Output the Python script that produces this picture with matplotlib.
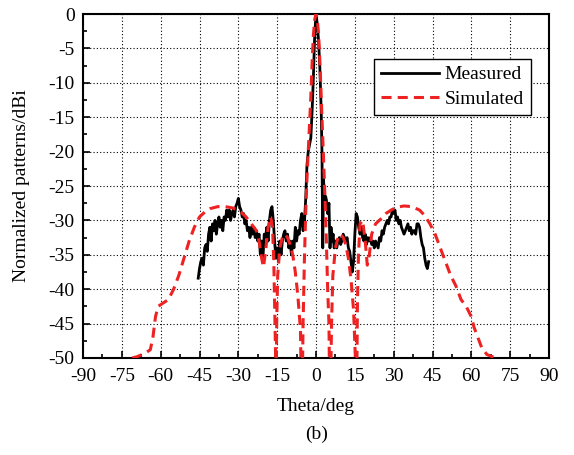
import matplotlib
matplotlib.use("Agg")
import matplotlib.pyplot as plt
from matplotlib.ticker import MultipleLocator

plt.rcParams["font.family"] = ["Liberation Serif", "DejaVu Serif"]
plt.rcParams["axes.unicode_minus"] = False

# measured pattern (black solid)
meas_theta = [
    -45.5, -45, -44.5, -44, -43.5, -43, -42.5, -42, -41.5, -41, -40.5, -40,
    -39.5, -39, -38.5, -38, -37.5, -37, -36.5, -36, -35.5, -35, -34.5, -34,
    -33.5, -33, -32.5, -32, -31.5, -31, -30.5, -30, -29.5, -29, -28.5, -28,
    -27.5, -27, -26.5, -26, -25.5, -25, -24.5, -24, -23.5, -23, -22.5, -22,
    -21.5, -21, -20.5, -20, -19.5, -19, -18.5, -18, -17.5, -17, -16.5, -16,
    -15.5, -15, -14.5, -14, -13.5, -13, -12.5, -12, -11.5, -11, -10.5, -10,
    -9.5, -9, -8.5, -8, -7.5, -7, -6.5, -6, -5.5, -5, -4.5, -4, -3.5, -3,
    -2.5, -2, -1.5, -1, -0.5, 0, 0.5, 1, 1.5, 2, 2.3, 2.6, 2.9, 3.3, 3.7, 4,
    4.5, 5, 5.4, 5.8, 6.2, 6.6, 7, 7.5, 8, 8.5, 9, 9.5, 10, 10.5, 11, 11.5,
    12, 12.5, 13, 13.5, 14, 14.5, 15, 15.5, 16, 16.5, 17, 17.5, 18, 18.5, 19,
    19.5, 20, 20.5, 21, 21.5, 22, 22.5, 23, 23.5, 24, 24.5, 25, 25.5, 26,
    26.5, 27, 27.5, 28, 28.5, 29, 29.5, 30, 30.5, 31, 31.5, 32, 32.5, 33,
    33.5, 34, 34.5, 35, 35.5, 36, 36.5, 37, 37.5, 38, 38.5, 39, 39.5, 40,
    40.5, 41, 41.5, 42, 42.5, 43, 43.5,
]
meas_db = [
    -38.4, -37, -36, -35.5, -36.5, -34, -33.5, -34.5, -32, -31, -33, -30.5,
    -31.5, -30, -32, -30.5, -29.5, -31, -30, -31.5, -29.5, -30, -28.5, -29.5,
    -28.5, -30, -29, -28.5, -29.5, -28, -27.5, -26.8, -28, -28.5, -29.5, -29,
    -30.5, -30, -31.5, -31, -32.5, -31, -32, -31, -32.5, -31.5, -33, -32,
    -35, -33, -35.5, -32, -32.5, -31, -33, -30, -28.5, -28, -30, -33,
    -35.5, -34, -36, -33, -35, -33, -32, -31.5, -33, -32, -34, -33,
    -35, -33, -34, -31, -33, -31.5, -32, -30, -29, -31.5, -30.5, -27, -22, -20,
    -19, -18, -14, -9, -3, 0, -1.5, -4, -8, -14, -20, -34, -24, -27, -26.5, -27,
    -29, -27.5, -34, -31, -33, -32, -34, -33, -34, -33, -32.5, -33.5, -33, -32, -32.5, -33,
    -32.5, -34, -34.5, -36, -37.5, -36, -32, -29, -29.5, -31, -32, -31, -32.5, -33, -32,
    -33.5, -32.5, -33, -32.5, -33.5, -33, -34, -33, -33.5, -34, -32.5, -33, -31.5, -32,
    -31, -30.5, -30, -30.5, -29.5, -29.5, -28.5, -29, -28.5, -30, -29.5, -30.5, -30, -31,
    -31.5, -32, -31.5, -31, -30.5, -31.5, -31, -32, -31.5, -31.5, -32, -30.5, -30.5, -31,
    -32.5, -33.5, -34, -35.5, -36.5, -37, -36,
]

# simulated pattern (red dashed)
sim_theta = [
    -71, -69, -66, -64, -63, -62, -61, -59, -57, -55, -53, -51, -49, -47,
    -45, -43, -41, -38, -35, -32, -29, -27, -25, -23, -22, -21, -20.3,
    -19.5, -18.5, -17.5, -16.8, -16.3, -16, -15.6, -15.5, -15.2, -14.8,
    -14, -13, -12, -11, -10, -9, -8, -7, -6, -5.5, -5, -4.5, -4, -3.5, -3,
    -2.5, -2, -1.5, -1, -0.5, 0, 0.5, 1, 1.5, 2, 2.5, 3, 3.5, 4, 4.5, 5,
    5.4, 6, 6.5, 7.5, 8.5, 9.5, 10.5, 11.5, 12.5, 13.5, 14.5, 15.2, 15.6,
    16, 16.4, 17, 18, 19, 19.8, 20.6, 21.5, 23, 25, 27, 29, 31, 34, 37, 40,
    42, 44, 46, 48, 50, 52, 54, 56, 58, 60, 61, 62, 63, 64, 65, 66, 68, 70,
    72,
]
sim_db = [
    -50, -49.8, -49.3, -48.8, -47, -44, -42.5, -42, -41.5, -40, -38, -35.5,
    -33, -31, -29.5, -28.8, -28.3, -28, -28, -28.2, -28.8, -29.5, -30.5,
    -31.5, -33, -35.5, -36.8, -34.5, -31, -29.5, -31, -36, -42, -50, -60,
    -45, -38, -34, -32.5, -32, -32.5, -33.5, -35, -37.5, -41, -46, -60, -45,
    -36, -29, -24, -20, -16, -12, -7, -3, -0.8, 0, -0.8, -3, -7, -12, -17,
    -22, -27, -33, -40, -45, -60, -45, -38, -34, -32.5, -32, -32.5, -33.5,
    -35.5, -38.5, -43, -50, -60, -42, -35, -30.5, -30, -33, -36.5, -35, -32,
    -30.5, -29.8, -29, -28.5, -28.1, -27.9, -28, -28.5, -29.3, -30.5, -32,
    -34, -36, -38, -39.5, -41.5, -42.5, -44, -45.5, -46.5, -47.5, -48.5,
    -49, -49.5, -49.8, -50, -50.5,
]

fig = plt.figure(figsize=(5.74, 4.55), dpi=100)
ax = fig.add_axes([0.1446, 0.2132, 0.8119, 0.7560])

ax.plot(meas_theta, meas_db, color="black", lw=2.0, label="Measured", zorder=3)
ax.plot(sim_theta, sim_db, color="#ee2222", lw=2.2, dashes=(3.3, 2.0),
        label="Simulated", zorder=4)

ax.set_xlim(-90, 90)
ax.set_ylim(-50, 0)
ax.xaxis.set_major_locator(MultipleLocator(15))
ax.xaxis.set_minor_locator(MultipleLocator(7.5))
ax.yaxis.set_major_locator(MultipleLocator(5))
ax.yaxis.set_minor_locator(MultipleLocator(2.5))
ax.tick_params(which="both", direction="in", labelsize=14, width=1.2)
ax.tick_params(which="major", length=5, pad=6)
ax.tick_params(axis="x", which="major", pad=7.5)
ax.tick_params(which="minor", length=3)
ax.grid(True, which="major", color="black", lw=0.8, linestyle=(0, (1, 2)))
for s in ax.spines.values():
    s.set_linewidth(1.5)

ax.set_xlabel("Theta/deg", fontsize=14, labelpad=9)
ax.set_ylabel("Normalized patterns/dBi", fontsize=14, labelpad=13)

leg = ax.legend(loc="upper right", bbox_to_anchor=(0.961, 0.869), fontsize=14,
                handlelength=3.0, handletextpad=0.3, labelspacing=0.35,
                borderpad=0.35, fancybox=False, framealpha=1, borderaxespad=0)
leg.get_frame().set_edgecolor("black")
leg.get_frame().set_linewidth(1.0)

fig.text(0.551, 0.045, "(b)", ha="center", va="center", fontsize=14)

fig.savefig("out.png", dpi=100)
